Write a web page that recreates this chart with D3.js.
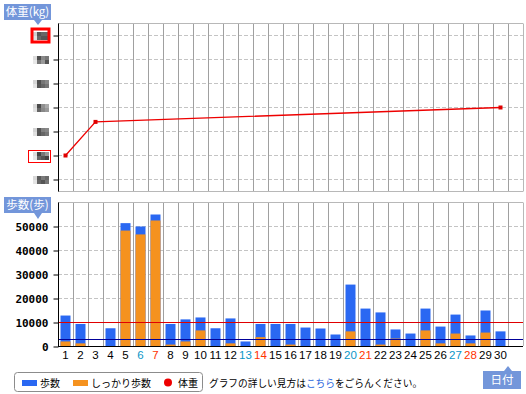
<!DOCTYPE html>
<html>
<head>
<meta charset="utf-8">
<script src="https://cdn.jsdelivr.net/npm/d3@7"></script>
<style>
body { margin: 0; background: #fff; }
svg { display: block; }
</style>
</head>
<body>
<div id="chart"></div>
<script>
// days of the month
const days = [1,2,3,4,5,6,7,8,9,10,11,12,13,14,15,16,17,18,19,20,21,22,23,24,25,26,27,28,29,30];
// total steps per day
const steps = [12900,9400,0,7600,51400,50000,55000,9400,11300,12100,7600,11700,2100,9400,9400,
               9400,7900,7500,5000,25800,15800,14200,7100,5400,15800,8300,13300,4600,15000,6300];
// brisk ("shikkari") steps per day
const briskSteps = [2100,1300,0,0,48300,46700,52500,800,2100,6700,0,1300,0,3900,0,
                    800,0,0,0,6300,0,800,3300,0,6700,1300,5400,1300,5800,0];
// weight only recorded on a few days
const weightDays = [1,3,30];
const weightValues = [61.0,62.4,63.0];
const weightTicks = [60,61,62,63,64,65,66];
const stepTicks = [0,10000,20000,30000,40000,50000];
const saturdays = [6,13,20,27];
const sundays = [7,14,21,28];
const stepGoal = 10000;
const briskGoal = 3000;

const W = 526, H = 394;
const left = 58, right = 523;
const JP = '"Noto Sans CJK JP", sans-serif';
const BLUE = '#2a68f2', ORANGE = '#f5921f', BOX = '#7396da';

const svg = d3.select('#chart').append('svg')
    .attr('width', W).attr('height', H);

// one empty slot after day 30
const x = d3.scaleBand()
    .domain(days.concat([31]))
    .range([left, right])
    .paddingInner(1/3)
    .paddingOuter(1/6);
const bound = d => Math.floor(x(d) + x.bandwidth() + (x.step() - x.bandwidth()) / 2) + 0.5;

const yW = d3.scaleLinear().domain([59.5, 66.5]).range([191.5, 23.5]);
const yS = d3.scaleLinear().domain([0, 60000]).range([346.5, 202.5]);

function grid(g, top, bottom, yScale, ticks) {
    // horizontal dashed lines
    g.selectAll('.hg').data(ticks).enter().append('line')
        .attr('x1', left).attr('x2', right)
        .attr('y1', d => Math.floor(yScale(d)) + 0.5)
        .attr('y2', d => Math.floor(yScale(d)) + 0.5)
        .attr('stroke', '#c4c4c4').attr('stroke-dasharray', '4,2');
    // vertical lines at day boundaries
    g.selectAll('.vg').data(days.concat([31])).enter().append('line')
        .attr('x1', d => bound(d)).attr('x2', d => bound(d))
        .attr('y1', top).attr('y2', bottom)
        .attr('stroke', d => d === 31 ? '#b8b8b8' : '#a0a0a0');
    g.append('line').attr('x1', left).attr('x2', right)
        .attr('y1', top).attr('y2', top).attr('stroke', '#b8b8b8');
}

// ---- weight chart ----
const gW = svg.append('g');
grid(gW, 23.5, 191.5, yW, weightTicks);
gW.append('line').attr('x1', left).attr('x2', right)
    .attr('y1', 191.5).attr('y2', 191.5).attr('stroke', '#b8b8b8');

gW.append('g')
    .attr('transform', `translate(${left + 0.5},0)`)
    .call(d3.axisLeft(yW).tickValues(weightTicks).tickSize(5).tickFormat(''))
    .call(a => a.select('.domain').attr('d', 'M0,23.5V191.5').attr('stroke', '#000'))
    .call(a => a.selectAll('.tick line').attr('stroke', '#000'));

// pixelated (hidden) weight labels
const mosaic = [
    ['#d8d8d8','#5a5a5a','#7a7a7a','#6a6a6a','#e4e4e4','#666','#555','#777'],
    ['#dcdcdc','#444','#777','#999','#e6e6e6','#666','#555','#444'],
    ['#d4d4d4','#555','#808080','#888','#e0e0e0','#555','#666','#777'],
    ['#dadada','#4a4a4a','#909090','#aaa','#e2e2e2','#666','#888','#999'],
    ['#d6d6d6','#505050','#777','#888','#e4e4e4','#555','#666','#777'],
    ['#dcdcdc','#4c4c4c','#888','#777','#e8e8e8','#777','#999','#555'],
    ['#d0d0d0','#555','#666','#666','#e0e0e0','#666','#555','#555']
];
weightTicks.forEach((t, i) => {
    const cy = Math.floor(yW(t)) - 3;
    mosaic[i].forEach((c, k) => {
        gW.append('rect')
            .attr('x', 33 + (k % 4) * 4).attr('y', cy + Math.floor(k / 4) * 4)
            .attr('width', 4).attr('height', 4).attr('fill', c);
    });
});
const yMax = Math.floor(yW(d3.max(weightTicks)));
gW.append('rect').attr('x', 32).attr('y', yMax - 6).attr('width', 17).attr('height', 13)
    .attr('fill', 'none').attr('stroke', '#f00').attr('stroke-width', 3);
const yMin = Math.floor(yW(61));
gW.append('rect').attr('x', 28.5).attr('y', yMin - 4.5).attr('width', 22).attr('height', 12)
    .attr('fill', 'none').attr('stroke', '#f00');

const wData = weightDays.map((d, i) => ({day: d, v: weightValues[i]}));
const cx = d => x(d) + x.bandwidth() / 2;
gW.append('path').datum(wData)
    .attr('d', d3.line().x(d => cx(d.day)).y(d => yW(d.v)))
    .attr('fill', 'none').attr('stroke', '#ee0000').attr('stroke-width', 1.3);
gW.selectAll('.pt').data(wData).enter().append('rect')
    .attr('x', d => cx(d.day) - 2).attr('y', d => yW(d.v) - 2)
    .attr('width', 4).attr('height', 4).attr('fill', '#e00000');

// ---- steps chart ----
const gS = svg.append('g');
grid(gS, 202.5, 346, yS, stepTicks.slice(1));

const rows = days.map((d, i) => ({day: d, total: steps[i], brisk: briskSteps[i]}));
gS.selectAll('.bar').data(rows.filter(r => r.total > 0)).enter().append('rect')
    .attr('x', d => x(d.day)).attr('width', x.bandwidth())
    .attr('y', d => yS(d.total)).attr('height', d => yS(0) - yS(d.total))
    .attr('fill', BLUE);
gS.selectAll('.brisk').data(rows.filter(r => r.brisk > 0)).enter().append('rect')
    .attr('x', d => x(d.day)).attr('width', x.bandwidth())
    .attr('y', d => yS(d.brisk)).attr('height', d => yS(0) - yS(d.brisk))
    .attr('fill', ORANGE);

// goal lines
gS.append('line').attr('x1', left).attr('x2', right)
    .attr('y1', Math.floor(yS(stepGoal)) + 0.5).attr('y2', Math.floor(yS(stepGoal)) + 0.5)
    .attr('stroke', '#e00000');
gS.append('line').attr('x1', left).attr('x2', right)
    .attr('y1', Math.floor(yS(briskGoal)) + 0.5).attr('y2', Math.floor(yS(briskGoal)) + 0.5)
    .attr('stroke', '#000099').attr('stroke-width', 1.2);

gS.append('line').attr('x1', left).attr('x2', right)
    .attr('y1', 346.5).attr('y2', 346.5).attr('stroke', '#000');

gS.append('g')
    .attr('transform', `translate(${left + 0.5},0)`)
    .call(d3.axisLeft(yS).tickValues(stepTicks).tickSize(5).tickPadding(5).tickFormat(d3.format('d')))
    .call(a => a.select('.domain').attr('d', 'M0,202.5V346.5').attr('stroke', '#000'))
    .call(a => a.selectAll('.tick line').attr('stroke', '#000'))
    .call(a => a.selectAll('text')
        .attr('font-family', '"DejaVu Sans Mono", monospace')
        .attr('font-weight', 'bold').attr('font-size', 11).attr('fill', '#000'));

gS.append('g')
    .attr('transform', 'translate(0,346)')
    .call(d3.axisBottom(x).tickValues(days).tickSize(0).tickPadding(5))
    .call(a => a.select('.domain').remove())
    .call(a => a.selectAll('text')
        .attr('font-family', '"Liberation Sans", Arial, sans-serif')
        .attr('font-size', 11.5)
        .attr('fill', d => saturdays.includes(d) ? '#0a96c8' : sundays.includes(d) ? '#ff3300' : '#000'));

// ---- label boxes ----
function labelBox(x0, y0, w, h, tx, ty, text) {
    const up = ty < y0;
    const base = up ? y0 : y0 + h;
    svg.append('path')
        .attr('d', `M${tx - 4},${base}L${tx},${ty}L${tx + 4},${base}Z`)
        .attr('fill', BOX);
    svg.append('rect').attr('x', x0).attr('y', y0).attr('width', w).attr('height', h)
        .attr('fill', BOX);
    svg.append('text').attr('x', x0 + w / 2).attr('y', y0 + h / 2 + 4.2)
        .attr('text-anchor', 'middle').attr('font-family', JP).attr('font-size', 11.5)
        .attr('fill', '#fff').text(text);
}
labelBox(4, 4, 47, 16, 38, 25, '体重(kg)');
labelBox(4, 197, 47, 16, 38, 219, '歩数(歩)');
labelBox(483, 371, 38, 18, 508, 366, '日付');

// ---- legend ----
const lg = svg.append('g');
lg.append('rect').attr('x', 14.5).attr('y', 372.5).attr('width', 188).attr('height', 19)
    .attr('rx', 3).attr('fill', '#fff').attr('stroke', '#8c8c8c');
const legendItems = [
    {x: 22, label: '歩数', color: BLUE, shape: 'rect'},
    {x: 73, label: 'しっかり歩数', color: ORANGE, shape: 'rect'},
    {x: 164, label: '体重', color: '#ee0000', shape: 'circle'}
];
legendItems.forEach(it => {
    if (it.shape === 'rect') {
        lg.append('rect').attr('x', it.x).attr('y', 380).attr('width', 15).attr('height', 6)
            .attr('fill', it.color);
    } else {
        lg.append('circle').attr('cx', it.x + 4).attr('cy', 382.5).attr('r', 4)
            .attr('fill', it.color);
    }
    lg.append('text').attr('x', it.x + (it.shape === 'rect' ? 18 : 14)).attr('y', 386.5)
        .attr('font-family', JP).attr('font-size', 10).attr('fill', '#000').text(it.label);
});

const note = svg.append('text').attr('x', 209).attr('y', 386.5)
    .attr('font-family', JP).attr('font-size', 9.7).attr('fill', '#000');
note.append('tspan').text('グラフの詳しい見方は');
note.append('tspan').attr('fill', '#2a66dd').text('こちら');
note.append('tspan').text('をごらんください。');
</script>
</body>
</html>
